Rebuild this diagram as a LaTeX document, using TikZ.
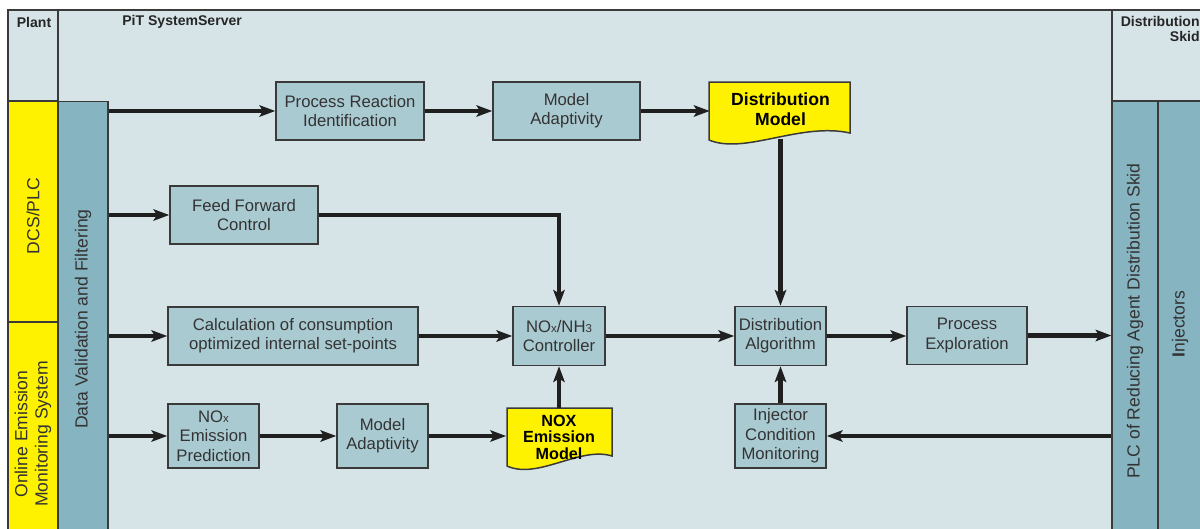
\documentclass[tikz,border=0pt]{standalone}
\usepackage{fontspec}
\setmainfont{Liberation Sans}
\usetikzlibrary{arrows.meta,calc}
\definecolor{bgcol}{HTML}{D6E4E8}
\definecolor{boxfill}{HTML}{AACAD2}
\definecolor{colfill}{HTML}{86B4C0}
\definecolor{yel}{HTML}{FFF200}
\definecolor{bord}{HTML}{3A3A3A}
\definecolor{txt}{HTML}{333333}
\tikzset{
  box/.style={draw=bord, fill=boxfill, line width=0.85pt, align=center, inner sep=0pt,
    text=txt, font=\fontsize{9.5}{11}\selectfont},
  col/.style={draw=bord, fill=colfill, line width=0.6pt, inner sep=0pt},
  ycol/.style={draw=bord, fill=yel, line width=0.6pt, inner sep=0pt},
  vlabel/.style={rotate=90, align=center, text=txt, font=\fontsize{10}{11.5}\selectfont},
  hdr/.style={font=\bfseries\fontsize{8}{8.6}\selectfont, text=black!85},
  ylabel/.style={align=center, inner sep=0pt, text=black, font=\bfseries\fontsize{10}{11.3}\selectfont},
  arr/.style={line width=2.35pt, draw=black!88, -{Stealth[length=9pt,width=6.5pt,inset=2pt]}},
  frame/.style={draw=bord, line width=0.6pt}
}
\newcommand{\smx}[1]{{\fontsize{6.5}{7}\selectfont #1}}
\begin{document}
\begin{tikzpicture}[x=0.02cm,y=-0.02cm]
\useasboundingbox (0,0) rectangle (1200,528);
% background
\fill[bgcol] (8,10) rectangle (1210,540);
\draw[frame] (1210,10) -- (8,10) -- (8,540);
\draw[frame] (58,10) -- (58,101);
\draw[frame] (1112,10) -- (1112,101);
\draw[frame] (1112,101) -- (1210,101);
% columns
\node[ycol, minimum width=1.0cm, minimum height=4.42cm] (dcs) at (33,211.5) {};
\node[ycol, minimum width=1.0cm, minimum height=4.36cm] (oems) at (33,431) {};
\node[col, minimum width=1.0cm, minimum height=8.78cm] (dv) at (83,320.5) {};
\node[col, minimum width=0.92cm, minimum height=8.78cm] (plc) at (1135,320.5) {};
\node[col, minimum width=1.0cm, minimum height=8.78cm] (inj) at (1183,320.5) {};
% headers
\node[hdr] (hplant) at (34,22) {Plant};
\node[hdr, anchor=west, inner sep=0pt] (hpit) at (122,22) {PiT SystemServer};
\node[hdr, anchor=north east, align=right, inner sep=0pt] (hskid) at (1200,16) {Distribution\\Skid};
% vertical labels
\node[vlabel] (tdcs) at (33,216) {DCS/PLC};
\node[vlabel] (toems) at (33,434) {Online Emission\\Monitoring System};
\node[vlabel] (tdv) at (83,319) {Data Validation and Filtering};
\node[vlabel] (tplc) at (1135,321) {PLC of Reducing Agent Distribution Skid};
\node[vlabel] (tinj) at (1180,324) {\textbf{I}njectors};
% boxes
\node[box, minimum width=2.96cm, minimum height=1.16cm] (PRI) at (350,111) {Process Reaction\\Identification};
\node[box, minimum width=2.94cm, minimum height=1.16cm] (MA1) at (566.5,111) {Model\\Adaptivity};
\node[box, minimum width=2.96cm, minimum height=1.16cm] (FFC) at (244,215) {Feed Forward\\Control};
\node[box, minimum width=5.0cm, minimum height=1.16cm] (CALC) at (293,336) {Calculation of consumption\\optimized internal set-points};
\node[box, minimum width=1.84cm, minimum height=1.18cm] (NOXC) at (559,336) {NO\smx{x}/NH\smx{3}\\Controller};
\node[box, minimum width=1.82cm, minimum height=1.18cm] (DA) at (780.5,336) {Distribution\\Algorithm};
\node[box, minimum width=2.4cm, minimum height=1.16cm] (PE) at (967,335.5) {Process\\Exploration};
\node[box, minimum width=1.82cm, minimum height=1.28cm] (NEP) at (213.5,436) {NO\smx{x}\\Emission\\Prediction};
\node[box, minimum width=1.82cm, minimum height=1.28cm] (MA2) at (382.5,436) {Model\\Adaptivity};
\node[box, minimum width=1.82cm, minimum height=1.28cm] (ICM) at (780.5,436) {Injector\\Condition\\Monitoring};
% yellow document shapes
\filldraw[fill=yel, draw=bord, line width=0.85pt] (709,82) -- (850,82) -- (850,133)
  .. controls (800,122) and (745,155) .. (709,140) -- cycle;
\node[ylabel, minimum width=2.82cm, minimum height=1.08cm] (DM) at (780.5,109) {Distribution\\Model};
\coordinate (DMb) at (780.5,139);
\filldraw[fill=yel, draw=bord, line width=0.85pt] (507,408) -- (612,408) -- (612,456)
  .. controls (580,446) and (538,480) .. (507,466) -- cycle;
\node[ylabel, font=\bfseries\fontsize{9.2}{9.4}\selectfont, minimum width=2.1cm, minimum height=1.16cm] (NEM) at (559,437) {NOX\\Emission\\Model};
% connectors
\draw[arr] (dv.east |- PRI.west) -- (PRI.west);
\draw[arr] (PRI.east) -- (MA1.west);
\draw[arr] (MA1.east) -- (MA1.east -| DM.west);
\draw[arr] (dv.east |- FFC.west) -- (FFC.west);
\draw[arr] (FFC.east) -| (NOXC.north);
\draw[arr] (dv.east |- CALC.west) -- (CALC.west);
\draw[arr] (CALC.east) -- (NOXC.west);
\draw[arr] (NOXC.east) -- (DA.west);
\draw[arr] (DMb) -- (DA.north);
\draw[arr] (DA.east) -- (DA.east -| PE.west);
\draw[arr] (PE.east) -- (PE.east -| plc.west);
\draw[arr] (dv.east |- NEP.west) -- (NEP.west);
\draw[arr] (NEP.east) -- (MA2.west);
\draw[arr] (MA2.east) -- (MA2.east -| NEM.west);
\draw[arr] (NEM.north) -- (NOXC.south);
\draw[arr] (plc.west |- ICM.east) -- (ICM.east);
\draw[arr] (ICM.north) -- (DA.south);
\end{tikzpicture}
\end{document}
